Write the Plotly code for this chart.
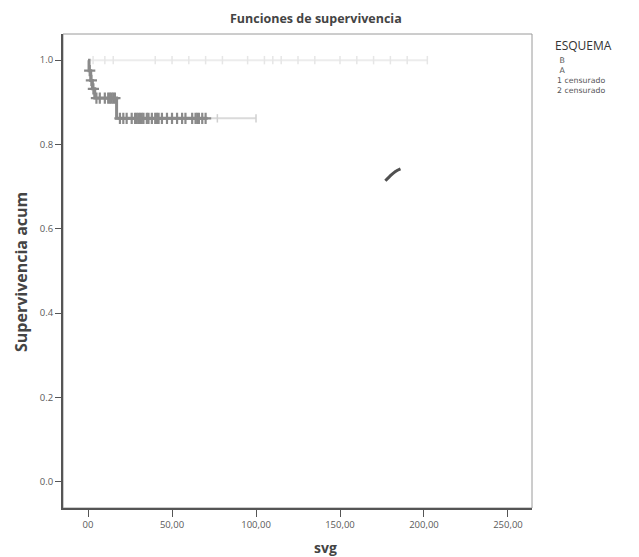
import plotly.graph_objects as go

# ---- data ----
# Grupo A: Kaplan-Meier steps (time, cumulative survival after event)
A_event_t = [0, 0.6, 1.6, 2.6, 4.0, 17.0]
A_event_s = [1.0, 0.975, 0.952, 0.932, 0.91, 0.862]
A_end_t = 100.0
A_bold_until = 71.0
# Grupo A: censored times
A_cens_t = [1.0, 2.0, 3.2, 5, 7, 10, 12, 13, 14, 15, 16,
            19, 21, 23, 26, 28, 29, 30, 31, 32, 33, 35, 36, 38, 40, 41, 42,
            44, 47, 50, 53, 56, 58, 62, 64, 65, 66, 68, 70, 77, 100]

# Grupo B: no events, survival stays at 1.0
B_start_t = 0.0
B_end_t = 202.0
B_surv = 1.0
B_cens_t = [3, 10, 15, 40, 50, 60, 70, 80, 95, 105, 110, 115, 125, 135,
            150, 160, 170, 180, 190, 202]

# short dark stroke visible in the picture
mark_t = [177, 179.5, 183, 186]
mark_s = [0.714, 0.724, 0.736, 0.742]

x_tickvals = [0, 50, 100, 150, 200, 250]
x_ticktext = ["00", "50,00", "100,00", "150,00", "200,00", "250,00"]
y_tickvals = [0.0, 0.2, 0.4, 0.6, 0.8, 1.0]
y_ticktext = ["0.0", "0.2", "0.4", "0.6", "0.8", "1.0"]
legend_items = ["B", "A", "1 censurado", "2 censurado"]


def step_value(t, ts, ss):
    v = ss[0]
    for ti, si in zip(ts, ss):
        if t >= ti:
            v = si
    return v


fig = go.Figure()

A_COL = "#8a8a8a"

# Group B (very faint)
fig.add_trace(go.Scatter(x=[B_start_t, B_end_t], y=[B_surv, B_surv], mode="lines",
                         line=dict(color="#ececec", width=2), showlegend=False,
                         hoverinfo="skip"))
fig.add_trace(go.Scatter(x=B_cens_t, y=[B_surv] * len(B_cens_t), mode="markers",
                         marker=dict(symbol="line-ns-open", size=6, color="#e6e6e6",
                                     line=dict(color="#e6e6e6", width=1.5)),
                         showlegend=False, hoverinfo="skip"))

# Group A step curve: bold part and faint continuation
bold_x, bold_y = [], []
for i, (t, s) in enumerate(zip(A_event_t, A_event_s)):
    if i > 0:
        bold_x.append(t)
        bold_y.append(A_event_s[i - 1])
    bold_x.append(t)
    bold_y.append(s)
bold_x.append(A_bold_until)
bold_y.append(A_event_s[-1])
fig.add_trace(go.Scatter(x=bold_x, y=bold_y, mode="lines",
                         line=dict(color=A_COL, width=3), showlegend=False))
fig.add_trace(go.Scatter(x=[A_bold_until, A_end_t], y=[A_event_s[-1]] * 2, mode="lines",
                         line=dict(color="#dadada", width=2), showlegend=False))

cb_x = [t for t in A_cens_t if t <= A_bold_until]
cf_x = [t for t in A_cens_t if t > A_bold_until]
fig.add_trace(go.Scatter(x=cb_x, y=[step_value(t, A_event_t, A_event_s) for t in cb_x],
                         mode="markers",
                         marker=dict(symbol="cross-thin-open", size=8, color=A_COL,
                                     line=dict(color=A_COL, width=2.2)),
                         showlegend=False))
fig.add_trace(go.Scatter(x=cf_x, y=[step_value(t, A_event_t, A_event_s) for t in cf_x],
                         mode="markers",
                         marker=dict(symbol="line-ns-open", size=6, color="#d0d0d0",
                                     line=dict(color="#d0d0d0", width=1.5)),
                         showlegend=False))

fig.add_trace(go.Scatter(x=mark_t, y=mark_s, mode="lines",
                         line=dict(color="#505050", width=3, shape="spline"),
                         showlegend=False))

# page geometry (the html body adds an 8px offset)
OFF = 8
W, H = 639 - OFF, 557 - OFF
L, R, T, B = 63, 532, 34, 508          # plot area in page pixels


def px(x):
    return (x - L) / (R - L)


def py(y):
    return (B - y) / (B - T)


annotations = [
    dict(text="<b>Funciones de supervivencia</b>", x=px(316), y=py(OFF),
         xref="paper", yref="paper", showarrow=False, xanchor="center", yanchor="top",
         font=dict(family="Open Sans", size=12.5, color="#444")),
    dict(text="ESQUEMA", x=px(553), y=py(45), xref="paper", yref="paper",
         showarrow=False, xanchor="left", yanchor="middle",
         font=dict(family="Open Sans", size=12, color="#333")),
    dict(text="<br>".join("&nbsp;" + t if len(t) == 1 else t for t in legend_items),
         x=px(555), y=py(54), xref="paper", yref="paper",
         showarrow=False, xanchor="left", yanchor="top", align="left",
         font=dict(family="DejaVu Sans", size=7.8, color="#555")),
    dict(text="<b>svg</b>", x=px(325), y=py(547), xref="paper", yref="paper",
         showarrow=False, xanchor="center", yanchor="middle",
         font=dict(family="Open Sans", size=14, color="#444")),
    dict(text="<b>Supervivencia acum</b>", x=px(21), y=py(272), xref="paper", yref="paper",
         showarrow=False, xanchor="center", yanchor="middle", textangle=-90,
         font=dict(family="Open Sans", size=16, color="#444")),
]

fig.update_layout(
    width=W, height=H,
    margin=dict(l=L - OFF, r=W - (R - OFF), t=T - OFF, b=H - (B - OFF), pad=0),
    paper_bgcolor="white", plot_bgcolor="white",
    showlegend=False,
    annotations=annotations,
    shapes=[dict(type="rect", xref="paper", yref="paper", x0=0, y0=0, x1=1, y1=1,
                 line=dict(color="#9a9a9a", width=1), layer="below")],
)
fig.update_xaxes(range=[-14.9, 264.3], tickvals=x_tickvals, ticktext=x_ticktext,
                 automargin=False,
                 showgrid=False, zeroline=False, showline=True, linecolor="#555",
                 linewidth=2, ticks="outside", ticklen=7, tickcolor="#555",
                 tickfont=dict(family="Open Sans", size=9.5, color="#5a5a5a"))
fig.update_yaxes(range=[-0.062, 1.062], tickvals=y_tickvals, ticktext=y_ticktext,
                 automargin=False,
                 showgrid=False, zeroline=False, showline=True, linecolor="#555",
                 linewidth=2, ticks="outside", ticklen=6, tickcolor="#555",
                 tickfont=dict(family="Open Sans", size=9.5, color="#5a5a5a"))

fig.write_html("out.html")
